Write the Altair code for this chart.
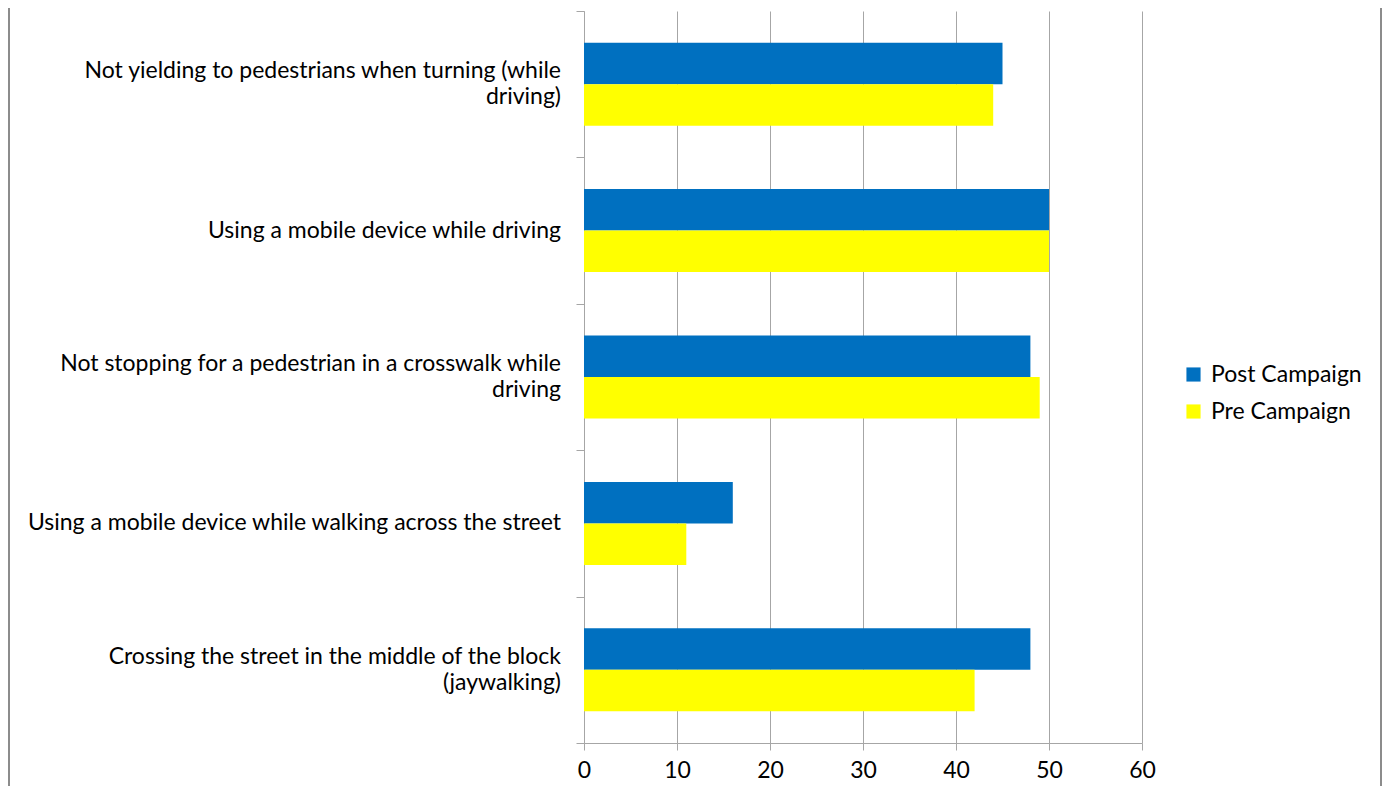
import altair as alt
import pandas as pd

categories = [
    "Not yielding to pedestrians when turning (while\ndriving)",
    "Using a mobile device while driving",
    "Not stopping for a pedestrian in a crosswalk while\ndriving",
    "Using a mobile device while walking across the street",
    "Crossing the street in the middle of the block\n(jaywalking)",
]
series = ["Post Campaign", "Pre Campaign"]
post_values = [45, 50, 48, 16, 48]
pre_values = [44, 50, 49, 11, 42]
x_ticks = [0, 10, 20, 30, 40, 50, 60]
colors = ["#0070C0", "#FFFF00"]

rows = []
for c, p, q in zip(categories, post_values, pre_values):
    rows.append({"category": c, "series": series[0], "value": p})
    rows.append({"category": c, "series": series[1], "value": q})
df = pd.DataFrame(rows)
label_df = pd.DataFrame({"category": categories})

W, H = 558, 732
FONT = "Lato"
FS = 23
LH = 26
GRID = "#A6A6A6"

y_enc = alt.Y(
    "category:N",
    sort=categories,
    scale=alt.Scale(paddingInner=0, paddingOuter=0),
    axis=alt.Axis(
        title=None,
        tickBand="extent",
        labels=False,
        tickSize=8,
        tickColor=GRID,
        domainColor=GRID,
        grid=False,
    ),
)

bars = alt.Chart(df).mark_bar().encode(
    y=y_enc,
    yOffset=alt.YOffset(
        "series:N",
        sort=series,
        scale=alt.Scale(paddingInner=0, paddingOuter=0.764),
    ),
    x=alt.X(
        "value:Q",
        scale=alt.Scale(domain=[0, 60]),
        axis=alt.Axis(
            title=None,
            values=x_ticks,
            labelFont=FONT,
            labelFontSize=FS,
            labelColor="#000000",
            labelPadding=9,
            labelFlush=False,
            tickSize=7,
            tickColor=GRID,
            domainColor=GRID,
            grid=True,
            gridColor=GRID,
        ),
    ),
    color=alt.Color(
        "series:N",
        sort=series,
        scale=alt.Scale(domain=series, range=colors),
        legend=alt.Legend(
            title=None,
            orient="none",
            legendX=598,
            legendY=352,
            symbolType="square",
            symbolSize=200,
            symbolStrokeWidth=0,
            labelFont=FONT,
            labelFontSize=FS,
            labelColor="#000000",
            labelOffset=6,
            rowPadding=13,
        ),
    ),
)

single_labels = alt.Chart(label_df).transform_filter(
    "indexof(datum.category, '\\n') < 0"
).mark_text(
    align="right", baseline="middle", font=FONT, fontSize=FS, color="#000000",
    lineBreak="\n", lineHeight=LH,
).encode(y=alt.Y("category:N", sort=categories), x=alt.value(-23), text="category:N")

double_labels = alt.Chart(label_df).transform_filter(
    "indexof(datum.category, '\\n') >= 0"
).mark_text(
    align="right", baseline="line-bottom", font=FONT, fontSize=FS, color="#000000",
    lineBreak="\n", lineHeight=LH,
).encode(y=alt.Y("category:N", sort=categories), x=alt.value(-23), text="category:N")

frame_df = pd.DataFrame({"side": ["left", "right"]})
left_border = alt.Chart(frame_df).transform_filter("datum.side == 'left'").mark_rule(
    color="#8C8C8C", strokeWidth=2
).encode(x=alt.value(-575), y=alt.value(-3), y2=alt.value(H + 60))
right_border = alt.Chart(frame_df).transform_filter("datum.side == 'right'").mark_rule(
    color="#8C8C8C", strokeWidth=2
).encode(x=alt.value(797), y=alt.value(-3), y2=alt.value(H + 60))

chart = alt.layer(bars, single_labels, double_labels, left_border, right_border).properties(
    width=W,
    height=H,
    autosize=alt.AutoSizeParams(type="none"),
    padding={"left": 576, "top": 3, "right": 240, "bottom": 43},
).configure_view(strokeWidth=0)

chart.save("out.html", embed_options={"renderer": "svg", "actions": False})
